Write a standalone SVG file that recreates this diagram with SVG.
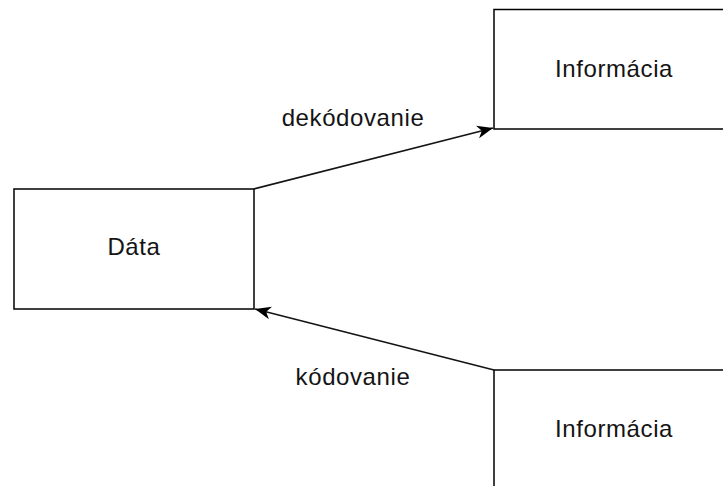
<svg xmlns="http://www.w3.org/2000/svg" width="723" height="486" viewBox="0 0 723 486">
  <style>
    .box { fill: #ffffff; stroke: #000000; stroke-width: 1.5; }
    .lbl { font-family: "Liberation Sans", Arial, sans-serif; font-size: 24px; letter-spacing: 0.6px; fill: #141414; text-anchor: middle; }
    .edge { fill: none; stroke: #141414; stroke-width: 1.7; }
  </style>
  <defs>
    <marker id="arrow" markerUnits="userSpaceOnUse" markerWidth="18" markerHeight="14" refX="16" refY="7" orient="auto">
      <path d="M0,0.5 L16,7 L0,13.5 L4.5,7 Z" fill="#000000"/>
    </marker>
  </defs>
  <rect width="723" height="486" fill="#ffffff"/>

  <g id="connectors">
    <path class="edge" d="M254,189 L493,128" marker-end="url(#arrow)"/>
    <path class="edge" d="M494,370 L255,309" marker-end="url(#arrow)"/>
    <text class="lbl" x="353" y="126">dekódovanie</text>
    <text class="lbl" x="353" y="385">kódovanie</text>
  </g>

  <g id="data">
    <rect class="box" x="14" y="189" width="240" height="120"/>
    <text class="lbl" x="134" y="255">Dáta</text>
  </g>

  <g id="info-top">
    <rect class="box" x="494" y="9.5" width="240" height="119.5"/>
    <text class="lbl" x="614" y="77">Informácia</text>
  </g>

  <g id="info-bottom">
    <rect class="box" x="494" y="370" width="240" height="120"/>
    <text class="lbl" x="614" y="437">Informácia</text>
  </g>
</svg>
